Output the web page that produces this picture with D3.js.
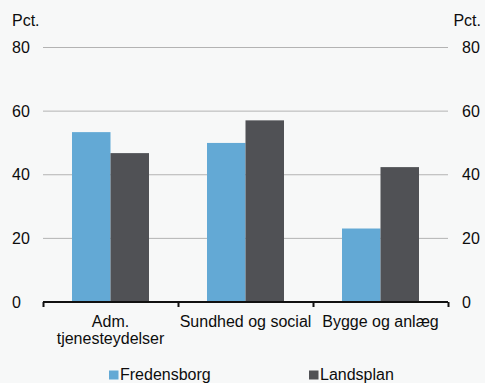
<!DOCTYPE html>
<html><head><meta charset="utf-8">
<script src="https://cdn.jsdelivr.net/npm/d3@7"></script>
<style>
html,body{margin:0;padding:0;background:#f7f8f8;}
svg{display:block;font-family:"Liberation Sans",Arial,sans-serif;}
</style></head>
<body><svg id="c" width="485" height="383"></svg>
<script>
const categories = [["Adm.","tjenesteydelser"],["Sundhed og social"],["Bygge og anlæg"]];
const seriesNames = ["Fredensborg","Landsplan"];
const fredensborg = [53.4, 50.0, 23.1];
const landsplan = [46.8, 57.1, 42.4];
const yTicks = [0,20,40,60,80];
const colors = ["#63a9d5","#505155"];

(function(){
const svg = d3.select("#c");
const W=485,H=383;
svg.append("rect").attr("width",W).attr("height",H).attr("fill","#f7f8f8");
const pLeft=43,pRight=448,pTop=47.5,pBottom=302;
const y = d3.scaleLinear().domain([0,80]).range([pBottom,pTop]);
const x0 = d3.scaleBand().domain(d3.range(categories.length)).range([pLeft,pRight]).paddingInner(0).paddingOuter(0);
const innerPad = 29;
const x1 = d3.scaleBand().domain(seriesNames).range([innerPad, x0.bandwidth()-innerPad]).padding(0);

svg.append("g").selectAll("line").data(yTicks.filter(d=>d>0)).join("line")
  .attr("x1",pLeft).attr("x2",pRight).attr("y1",d=>y(d)).attr("y2",d=>y(d))
  .attr("stroke","#b3b3b3").attr("stroke-width",1);

const data = categories.map((c,i)=>({i, vals:[fredensborg[i],landsplan[i]]}));
const g = svg.append("g").selectAll("g").data(data).join("g")
  .attr("transform",d=>`translate(${x0(d.i)},0)`);
g.selectAll("rect").data(d=>d.vals.map((v,k)=>({k,v}))).join("rect")
  .attr("x",d=>x1(seriesNames[d.k])).attr("width",x1.bandwidth())
  .attr("y",d=>y(d.v)).attr("height",d=>pBottom-y(d.v))
  .attr("fill",d=>colors[d.k]);

const fs=16, tc="#0d0d0d";
svg.append("g").selectAll("text").data(yTicks).join("text")
  .attr("x",12).attr("y",d=>y(d)).attr("dy","0.35em").attr("font-size",fs).attr("fill",tc)
  .text(d=>d);
svg.append("g").selectAll("text").data(yTicks).join("text")
  .attr("x",462).attr("y",d=>y(d)).attr("dy","0.35em").attr("font-size",fs).attr("fill",tc)
  .text(d=>d);
svg.append("text").attr("x",12).attr("y",26).attr("font-size",fs).attr("fill",tc).text("Pct.");
svg.append("text").attr("x",481).attr("y",26).attr("text-anchor","end").attr("font-size",fs).attr("fill",tc).text("Pct.");

const xAxis = d3.axisBottom(d3.scaleLinear().domain([0,3]).range([pLeft,pRight])).tickValues([0,1,2,3]).tickSize(5).tickFormat("");
const ax = svg.append("g").attr("transform",`translate(0,${pBottom})`).call(xAxis);
ax.select(".domain").attr("stroke","#111").attr("stroke-width",2).attr("d",`M${pLeft},0H${pRight}`);
ax.selectAll(".tick line").attr("stroke","#111").attr("stroke-width",2);

const cl = svg.append("g").selectAll("text").data(categories.map((c,i)=>({c,i}))).join("text")
  .attr("text-anchor","middle").attr("font-size",fs).attr("fill",tc)
  .attr("x",d=>x0(d.i)+x0.bandwidth()/2).attr("y",327);
cl.selectAll("tspan").data(d=>d.c.map((t,j)=>({t,j,x:x0(d.i)+x0.bandwidth()/2}))).join("tspan")
  .attr("x",d=>d.x).attr("dy",d=>d.j===0?0:16.5).text(d=>d.t);

const legX=[109,309];
const lg = svg.append("g").selectAll("g").data(seriesNames).join("g")
  .attr("transform",(d,i)=>`translate(${legX[i]},0)`);
lg.append("rect").attr("x",0).attr("y",370.5).attr("width",9.5).attr("height",9).attr("fill",(d,i)=>colors[i]);
lg.append("text").attr("x",11).attr("y",380).attr("font-size",fs).attr("fill",tc).text(d=>d);
})();
</script></body></html>
